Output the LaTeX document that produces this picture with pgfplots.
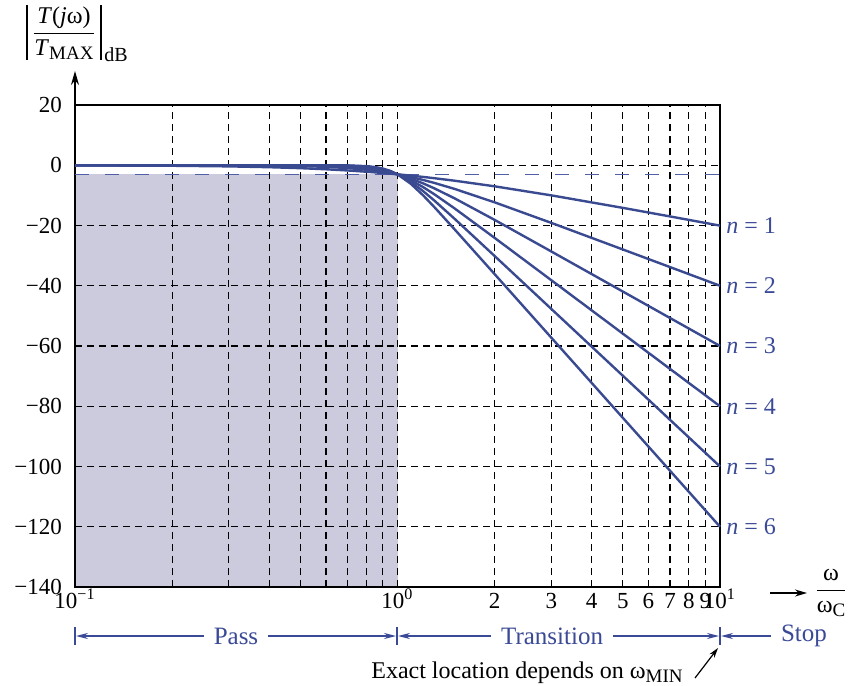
\documentclass[border=0pt]{standalone}
\usepackage{pgfplots}
\pgfplotsset{compat=1.18}
\usepackage{pgfplotstable}
\usepackage{fontspec}
\setmainfont{Liberation Serif}
\usetikzlibrary{arrows.meta}
\definecolor{curve}{RGB}{58,74,145}
\definecolor{shade}{RGB}{204,203,221}
\definecolor{dashblue}{RGB}{80,95,168}
\definecolor{txtblue}{RGB}{58,74,150}
\newcommand{\sub}[1]{\raisebox{-0.35ex}{\fontsize{9.5}{10}\selectfont #1}}
\pgfplotstableread{
x n1 n2 n3 n4 n5 n6
0.1 -0.043 0 0 0 0 0
0.2 -0.170 -0.007 0 0 0 0
0.3 -0.374 -0.035 -0.003 0 0 0
0.4 -0.645 -0.110 -0.018 -0.003 0 0
0.5 -0.969 -0.263 -0.067 -0.017 -0.004 -0.001
0.6 -1.335 -0.530 -0.198 -0.072 -0.026 -0.009
0.7 -1.732 -0.934 -0.483 -0.243 -0.121 -0.060
0.8 -2.148 -1.492 -1.011 -0.673 -0.442 -0.289
0.85 -2.362 -1.824 -1.390 -1.047 -0.781 -0.578
0.9 -2.577 -2.190 -1.851 -1.554 -1.300 -1.081
0.95 -2.793 -2.588 -2.393 -2.210 -2.038 -1.876
1 -3.010 -3.010 -3.010 -3.010 -3.010 -3.010
1.1 -3.444 -3.917 -4.427 -4.974 -5.555 -6.168
1.2 -3.874 -4.876 -6.005 -7.243 -8.568 -9.963
1.3 -4.298 -5.861 -7.655 -9.618 -11.699 -13.856
1.5 -5.119 -7.826 -10.931 -14.254 -17.684 -21.164
2 -6.990 -12.304 -18.129 -24.099 -30.107 -36.125
3 -10.000 -19.138 -28.633 -38.170 -47.712 -57.254
5 -14.150 -27.966 -41.938 -55.918 -69.897 -83.876
7 -16.990 -33.806 -50.706 -67.608 -84.510 -101.412
10 -20.043 -40.000 -60.000 -80.000 -100.000 -120.000
}\datatable
\begin{document}
\begin{tikzpicture}[font=\fontsize{12}{14}\selectfont]
\begin{axis}[
  set layers,
  scale only axis,
  width=322.5pt, height=241pt,
  xmode=log,
  xmin=0.1, xmax=10, ymin=-140, ymax=20,
  clip=false,
  axis line style={black, line width=0.9pt},
  xtick={0.1,1,2,3,4,5,6,7,8,9,10},
  xticklabels={10\textsuperscript{−1},10\textsuperscript{0},2,3,4,5,6,7,8,9,10\textsuperscript{1}},
  minor xtick={0.2,0.3,0.4,0.5,0.6,0.7,0.8,0.9},
  ytick={-140,-120,-100,-80,-60,-40,-20,0,20},
  yticklabels={−140,−120,−100,−80,−60,−40,−20,0,20},
  major tick length=0pt, minor tick length=0pt,
  xmajorgrids, xminorgrids, ymajorgrids,
  grid style={black, line width=0.55pt, dash pattern=on 3.5pt off 2.5pt},
  minor grid style={black, line width=0.55pt, dash pattern=on 3.5pt off 2.5pt},
  tick label style={font=\fontsize{11.5}{13}\selectfont},
  xticklabel style={text height=8.5pt, text depth=1pt, inner sep=2pt},
  yticklabel style={xshift=-3pt},
]
\addplot[fill=shade, draw=none, on layer=axis background] coordinates {(0.1,-140) (0.1,-3.01) (1,-3.01) (1,-140)} -- cycle;
\addplot[dashblue, line width=0.8pt, dash pattern=on 7pt off 8pt] coordinates {(0.1,-3.01) (10,-3.01)};
\addplot[curve, line width=1.2pt, line join=round] table[x=x, y=n1] {\datatable};
\addplot[curve, line width=1.2pt, line join=round] table[x=x, y=n2] {\datatable};
\addplot[curve, line width=1.2pt, line join=round] table[x=x, y=n3] {\datatable};
\addplot[curve, line width=1.2pt, line join=round] table[x=x, y=n4] {\datatable};
\addplot[curve, line width=1.2pt, line join=round] table[x=x, y=n5] {\datatable};
\addplot[curve, line width=1.2pt, line join=round] table[x=x, y=n6] {\datatable};
\node[anchor=west, text=txtblue, inner sep=3pt] at (axis cs:10,-20) {\textit{n} = 1};
\node[anchor=west, text=txtblue, inner sep=3pt] at (axis cs:10,-40) {\textit{n} = 2};
\node[anchor=west, text=txtblue, inner sep=3pt] at (axis cs:10,-60) {\textit{n} = 3};
\node[anchor=west, text=txtblue, inner sep=3pt] at (axis cs:10,-80) {\textit{n} = 4};
\node[anchor=west, text=txtblue, inner sep=3pt] at (axis cs:10,-100) {\textit{n} = 5};
\node[anchor=west, text=txtblue, inner sep=3pt] at (axis cs:10,-120) {\textit{n} = 6};
\end{axis}
% y axis arrow
\draw[black, line width=0.9pt, -{Stealth[length=7pt,width=4pt]}] (0,241pt) -- (0,258pt);
% y axis label
\node at (-5.5pt,277pt) {$\displaystyle\frac{\mbox{\textit{T}(\textit{j}ω)}}{\mbox{\textit{T}\sub{MAX}}}$};
\draw[black, line width=0.6pt] (-24pt,291pt) -- (-24pt,263.5pt);
\draw[black, line width=0.6pt] (13pt,291pt) -- (13pt,263.5pt);
\node[anchor=west, inner sep=0pt, font=\fontsize{10}{12}\selectfont] at (14.5pt,266pt) {dB};
% x axis arrow and label
\draw[black, line width=0.7pt, -{Stealth[length=6pt,width=3.5pt]}] (347.5pt,-3pt) -- (366pt,-3pt);
\node at (378pt,-3pt) {$\displaystyle\frac{\mbox{ω}}{\mbox{ω\sub{C}}}$};
% region bars
\draw[txtblue, line width=0.6pt] (0pt,-20pt) -- (0pt,-29pt);
\draw[txtblue, line width=0.6pt] (161pt,-20pt) -- (161pt,-29pt);
\draw[txtblue, line width=0.6pt] (322.5pt,-20pt) -- (322.5pt,-29pt);
\draw[txtblue, line width=0.7pt, {Stealth[length=6pt,width=3pt]}-{Stealth[length=6pt,width=3pt]}] (0.5pt,-24.5pt) -- (160.5pt,-24.5pt) node[midway, fill=white, inner xsep=5pt, inner ysep=1pt, text=txtblue, font=\fontsize{12.5}{14}\selectfont] {Pass};
\draw[txtblue, line width=0.7pt, {Stealth[length=6pt,width=3pt]}-{Stealth[length=6pt,width=3pt]}] (161.5pt,-24.5pt) -- (322pt,-24.5pt) node[pos=0.48, fill=white, inner xsep=5pt, inner ysep=1pt, text=txtblue, font=\fontsize{12.5}{14}\selectfont] {Transition};
\node[text=txtblue, inner xsep=5pt, font=\fontsize{12.5}{14}\selectfont] (stop) at (364.5pt,-24.5pt) {Stop};
\draw[txtblue, line width=0.7pt, -{Stealth[length=6pt,width=3pt]}] (stop.west) -- (323pt,-24.5pt);
% exact location note
\node at (226pt,-43pt) {Exact location depends on ω\sub{MIN}};
\draw[black, line width=0.6pt, -{Stealth[length=5pt,width=3pt]}] (310pt,-45.5pt) -- (321.5pt,-30.5pt);
\pgfresetboundingbox
\useasboundingbox (-37.5pt,-49pt) rectangle (387.5pt,293.5pt);
\end{tikzpicture}
\end{document}
